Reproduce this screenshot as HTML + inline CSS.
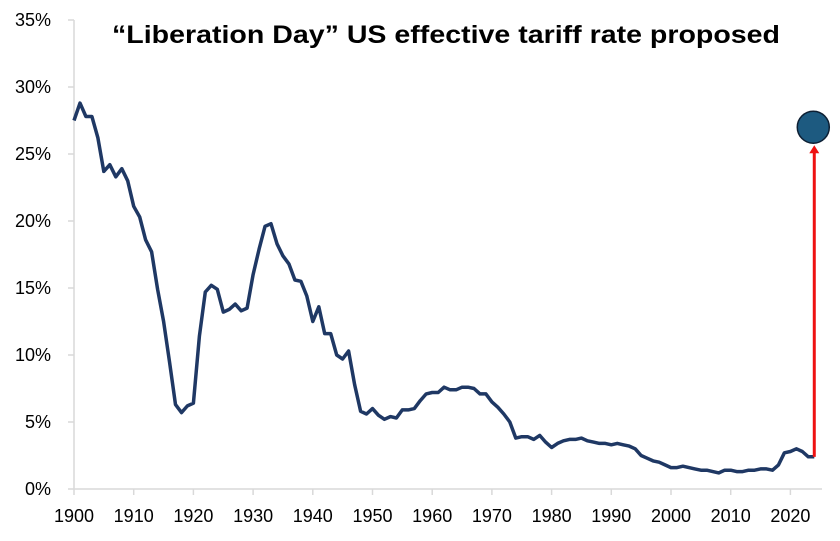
<!DOCTYPE html>
<html><head><meta charset="utf-8"><style>
body{margin:0;background:#fff;}
svg{display:block;font-family:"Liberation Sans",sans-serif;}
</style></head><body>
<svg id="chart" width="840" height="541" viewBox="0 0 840 541">
<text x="446" y="43" text-anchor="middle" font-size="25" font-weight="bold" fill="#000" textLength="668" lengthAdjust="spacingAndGlyphs">“Liberation Day” US effective tariff rate proposed</text>
<g id="axes"></g>
<g id="series"></g>
</svg>
<script>
const startYear = 1900;
const rates = [27.5,28.8,27.8,27.8,26.2,23.7,24.2,23.3,23.9,23.0,21.1,20.3,18.6,17.7,14.9,12.5,9.5,6.3,5.7,6.2,6.4,11.4,14.7,15.2,14.9,13.2,13.4,13.8,13.3,13.5,16.0,17.9,19.6,19.8,18.3,17.4,16.8,15.6,15.5,14.4,12.5,13.6,11.6,11.6,10.0,9.7,10.3,7.8,5.8,5.6,6.0,5.5,5.2,5.4,5.3,5.9,5.9,6.0,6.6,7.1,7.2,7.2,7.6,7.4,7.4,7.6,7.6,7.5,7.1,7.1,6.5,6.1,5.6,5.0,3.8,3.9,3.9,3.7,4.0,3.5,3.1,3.4,3.6,3.7,3.7,3.8,3.6,3.5,3.4,3.4,3.3,3.4,3.3,3.2,3.0,2.5,2.3,2.1,2.0,1.8,1.6,1.6,1.7,1.6,1.5,1.4,1.4,1.3,1.2,1.4,1.4,1.3,1.3,1.4,1.4,1.5,1.5,1.4,1.8,2.7,2.8,3.0,2.8,2.4,2.4];
const proposedYear = 2024;
const proposedRate = 27.0;
const yTicks = [0,5,10,15,20,25,30,35];
const xTicks = [1900,1910,1920,1930,1940,1950,1960,1970,1980,1990,2000,2010,2020];

const NS="http://www.w3.org/2000/svg";
const x = yr => 74 + (yr-1900)*5.97;
const y = v => 489 - v*13.4;
function el(tag, attrs, parent){const e=document.createElementNS(NS,tag);for(const k in attrs)e.setAttribute(k,attrs[k]);parent.appendChild(e);return e;}
const axes=document.getElementById('axes'), series=document.getElementById('series');

const yAxis=el('line',{x1:74,x2:74,y1:y(35),y2:489,stroke:'#d9d9d9','stroke-width':1.5},axes);


const xAxis=el('line',{x1:74,x2:822,y1:489,y2:489,stroke:'#d9d9d9','stroke-width':1.5},axes);


yTicks.forEach(v=>{
  el('line',{x1:68,x2:74,y1:y(v),y2:y(v),stroke:'#d9d9d9','stroke-width':1.5},axes);
  const t=el('text',{x:51,y:y(v)+6,'text-anchor':'end','font-size':18,fill:'#000'},axes);
  t.textContent=v+'%';
  
  
});
xTicks.forEach(v=>{
  el('line',{x1:x(v),x2:x(v),y1:489,y2:495,stroke:'#d9d9d9','stroke-width':1.5},axes);
  const t=el('text',{x:x(v),y:522,'text-anchor':'middle','font-size':18,fill:'#000'},axes);
  t.textContent=v;
  
  
});
const pts=rates.map((r,i)=>x(startYear+i).toFixed(1)+','+y(r).toFixed(1)).join(' ');
const line=el('polyline',{points:pts,fill:'none',stroke:'#1f3864','stroke-width':3.5,'stroke-linejoin':'round'},series);


const lastRate=rates[rates.length-1];
const ax=x(proposedYear);
const arrow=el('line',{x1:ax,x2:ax,y1:y(lastRate),y2:y(proposedRate)+24,stroke:'#ee1111','stroke-width':3},series);


const head=el('polygon',{points:`${ax-5},${y(proposedRate)+26} ${ax+5},${y(proposedRate)+26} ${ax},${y(proposedRate)+18}`,fill:'#ee1111'},series);


const dot=el('circle',{cx:ax-1,cy:y(proposedRate),r:16,fill:'#1d5a80',stroke:'#0d1f33','stroke-width':1.5},series);


</script>
</body></html>
